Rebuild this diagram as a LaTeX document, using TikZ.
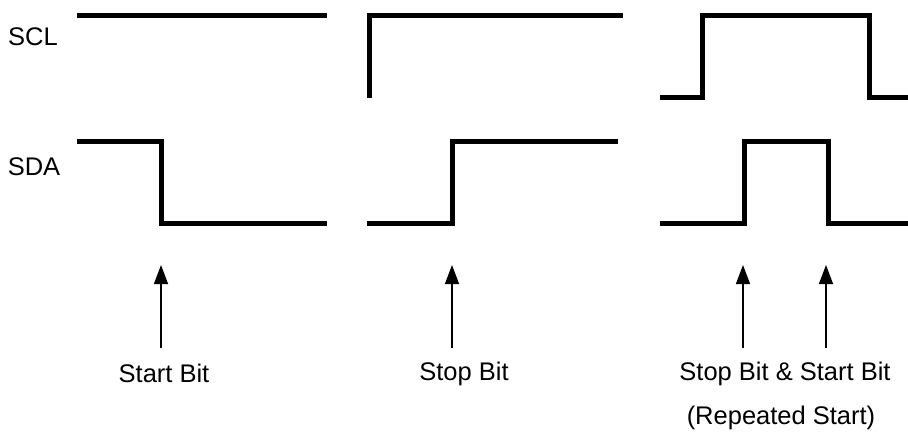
\documentclass[tikz,border=0pt]{standalone}
\usepackage{fontspec}
\setmainfont{Liberation Sans}
\usetikzlibrary{arrows.meta}

\begin{document}
\begin{tikzpicture}[
    x=1pt, y=-1pt,
    sig/.style={line width=5pt},
    arr/.style={-{Triangle[length=19pt,width=14pt]}, line width=1.4pt},
    lbl/.style={inner sep=0pt, anchor=base, font=\fontsize{25.5}{30}\selectfont}
]
\useasboundingbox (0,0) rectangle (908,434);

% signal names
\node[lbl] (scl) at (33,45) {SCL};
\node[lbl] (sda) at (34,175) {SDA};

% start condition
\draw[sig] (77,15) -- (327,15);
\draw[sig] (77,141) -- (161,141) -- (161,223) -- (327,223);

% stop condition
\draw[sig] (369,98) -- (369,15) -- (623,15);
\draw[sig] (367,223) -- (452,223) -- (452,141) -- (618,141);

% repeated start
\draw[sig] (660,97) -- (702,97) -- (702,15) -- (869,15) -- (869,97) -- (908,97);
\draw[sig] (660,223) -- (744,223) -- (744,141) -- (828,141) -- (828,223) -- (908,223);

% labels
\node[lbl] (start) at (164,382) {Start Bit};
\node[lbl] (stop) at (464,380) {Stop Bit};
\node[lbl] (both) at (785,380) {Stop Bit \& Start Bit};
\node[lbl] (rep) at (781,424) {(Repeated Start)};

% arrows
\coordinate (t1) at (161,348); \coordinate (h1) at (161,265);
\coordinate (t2) at (452,348); \coordinate (h2) at (452,265);
\coordinate (t3) at (743,348); \coordinate (h3) at (743,265);
\coordinate (t4) at (826,348); \coordinate (h4) at (826,265);
\draw[arr] (t1) -- (h1);
\draw[arr] (t2) -- (h2);
\draw[arr] (t3) -- (h3);
\draw[arr] (t4) -- (h4);

\end{tikzpicture}
\end{document}
